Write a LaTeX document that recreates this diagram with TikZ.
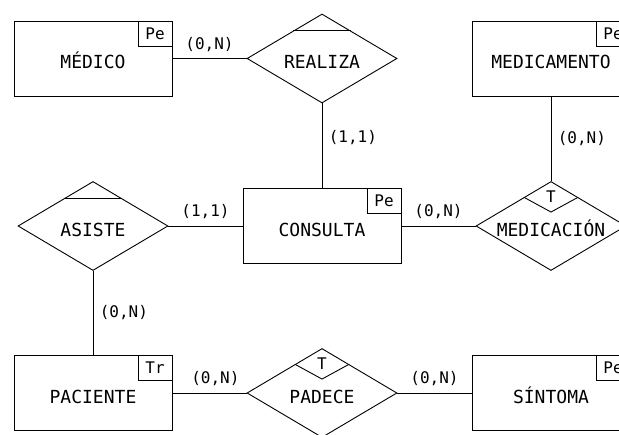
\documentclass[tikz,border=0pt]{standalone}
\usepackage{fontspec}
\setmonofont{DejaVu Sans Mono}
\usetikzlibrary{shapes.geometric,calc}

\begin{document}
\begin{tikzpicture}[x=1pt, y=-1pt, line width=0.9pt,
    entity/.style={draw, rectangle, minimum width=158pt, minimum height=75pt, text height=21pt, text depth=0pt, font=\ttfamily\fontsize{18}{18}\selectfont},
    relation/.style={draw, diamond, aspect=1.685, minimum width=150pt, minimum height=89pt, inner sep=0pt, text height=21pt, text depth=0pt, font=\ttfamily\fontsize{18}{18}\selectfont},
    tag/.style={draw, rectangle, anchor=north east, minimum width=34pt, minimum height=25pt, inner sep=0pt, font=\ttfamily\fontsize{16}{16}\selectfont},
    card/.style={font=\ttfamily\fontsize{16}{16}\selectfont}]
    \clip (0,0) rectangle (619,435);
    % entities
    \node[entity] (medico) at (93,58.5) {MÉDICO};
    \node[entity] (medicamento) at (551,58.5) {MEDICAMENTO};
    \node[entity] (consulta) at (322,226) {CONSULTA};
    \node[entity] (paciente) at (93,393) {PACIENTE};
    \node[entity] (sintoma) at (551,393) {SÍNTOMA};
    \node[tag] (medico-tag) at (medico.north east) {Pe};
    \node[tag] (medicamento-tag) at (medicamento.north east) {Pe};
    \node[tag] (consulta-tag) at (consulta.north east) {Pe};
    \node[tag] (paciente-tag) at (paciente.north east) {Tr};
    \node[tag] (sintoma-tag) at (sintoma.north east) {Pe};
    % relations
    \node[relation] (realiza) at (322,58.5) {REALIZA};
    \node[relation] (asiste) at (93,226) {ASISTE};
    \node[relation] (medicacion) at (551,226) {MEDICACIÓN};
    \node[relation] (padece) at (322,393) {PADECE};
    % top triangles
    \draw ($(realiza.north)!0.38!(realiza.west)$) -- ($(realiza.north)!0.38!(realiza.east)$);
    \draw ($(asiste.north)!0.38!(asiste.west)$) -- ($(asiste.north)!0.38!(asiste.east)$);
    % T diamonds
    \draw ($(medicacion.north)!0.36!(medicacion.west)$) -- ($(medicacion.north)+(0,31)$) -- ($(medicacion.north)!0.36!(medicacion.east)$);
    \node[card] (medicacion-t) at ($(medicacion.north)+(0,15.5)$) {T};
    \draw ($(padece.north)!0.36!(padece.west)$) -- ($(padece.north)+(0,31)$) -- ($(padece.north)!0.36!(padece.east)$);
    \node[card] (padece-t) at ($(padece.north)+(0,15.5)$) {T};
    % connectors
    \draw (medico) -- node[card, above=3pt] {(0,N)} (realiza);
    \draw (realiza) -- node[card, right=3pt, pos=0.4] {(1,1)} (consulta);
    \draw (medicamento) -- node[card, right=3pt] {(0,N)} (medicacion);
    \draw (asiste) -- node[card, above=3pt] {(1,1)} (consulta);
    \draw (consulta) -- node[card, above=3pt] {(0,N)} (medicacion);
    \draw (asiste) -- node[card, right=3pt] {(0,N)} (paciente);
    \draw (paciente) -- node[card, above=3pt, pos=0.58] {(0,N)} (padece);
    \draw (padece) -- node[card, above=3pt] {(0,N)} (sintoma);
\end{tikzpicture}
\end{document}
